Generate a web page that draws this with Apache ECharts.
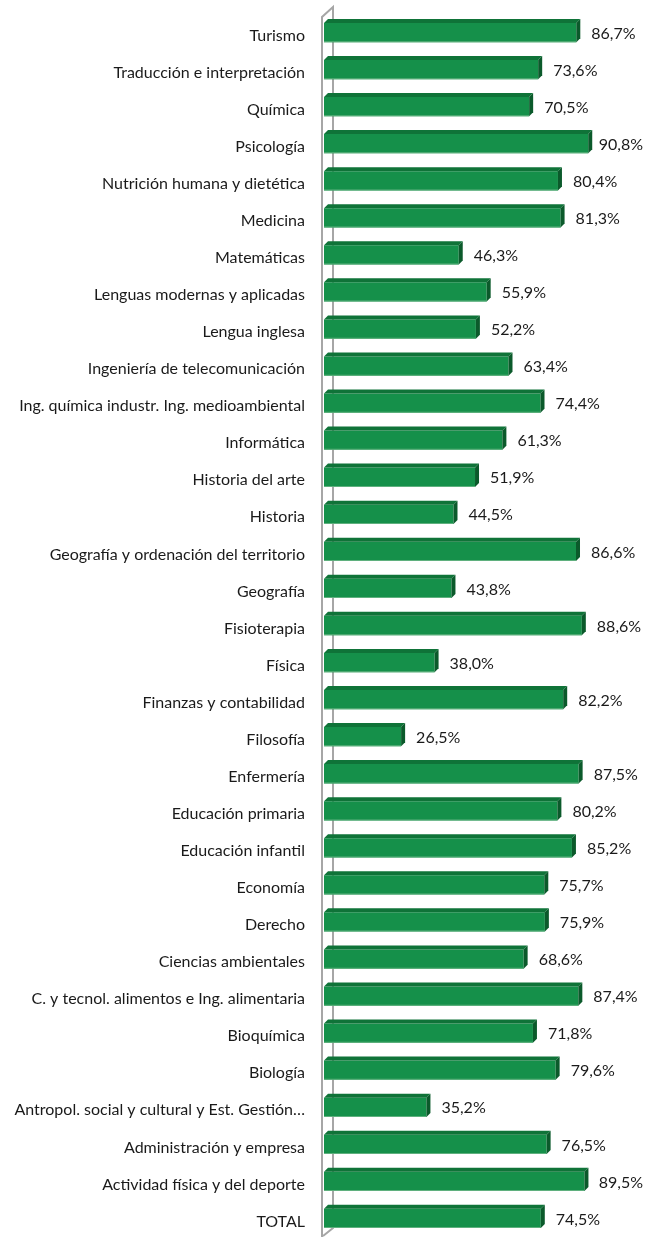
<!DOCTYPE html>
<html><head><meta charset="utf-8">
<script src="https://cdn.jsdelivr.net/npm/echarts@6/dist/echarts.min.js"></script>
<style>html,body{margin:0;padding:0;background:#fff}#c{width:646px;height:1237px}</style>
</head><body><div id="c"></div>
<script>
const categories = [
"Turismo","Traducción e interpretación","Química","Psicología","Nutrición humana y dietética","Medicina","Matemáticas","Lenguas modernas y aplicadas","Lengua inglesa","Ingeniería de telecomunicación","Ing. química industr. Ing. medioambiental","Informática","Historia del arte","Historia","Geografía y ordenación del territorio","Geografía","Fisioterapia","Física","Finanzas y contabilidad","Filosofía","Enfermería","Educación primaria","Educación infantil","Economía","Derecho","Ciencias ambientales","C. y tecnol. alimentos e Ing. alimentaria","Bioquímica","Biología","Antropol. social y cultural y Est. Gestión…","Administración y empresa","Actividad física y del deporte","TOTAL"];
const values = [86.7,73.6,70.5,90.8,80.4,81.3,46.3,55.9,52.2,63.4,74.4,61.3,51.9,44.5,86.6,43.8,88.6,38.0,82.2,26.5,87.5,80.2,85.2,75.7,75.9,68.6,87.4,71.8,79.6,35.2,76.5,89.5,74.5];

const FONT = 'Lato';
const ctx = document.createElement('canvas').getContext('2d');
ctx.font = '16px ' + FONT;
const chart = echarts.init(document.getElementById('c'), null, {renderer:'canvas'});
const D = 4;
chart.setOption({
  animation:false,
  grid:{left:324,right:31,top:14,bottom:0,containLabel:false},
  xAxis:{type:'value',min:0,max:100,show:false},
  yAxis:{type:'category',data:categories,inverse:true,
    axisLine:{show:false},axisTick:{show:false},
    axisLabel:{margin:19,color:'#1a1a1a',fontSize:16,fontFamily:FONT,
      formatter:function(s){return '{a|'+s+'}';},
      rich:{a:{fontSize:16,fontFamily:FONT,color:'#1a1a1a',padding:[6,0,0,0]}}}},
  series:[{type:'custom',
    data: values.map((v,i)=>[v,i]),
    encode:{x:0,y:1},
    renderItem:function(params,api){
      const v=api.value(0), c=api.value(1);
      const p0=api.coord([0,c]), p1=api.coord([v,c]);
      const h=api.size([0,1])[1]*0.52;
      const x0=p0[0], x1=p1[0], y0=p1[1]-h/2;
      const txt=v.toFixed(1).replace('.',',')+'%';
      const tw=ctx.measureText(txt).width;
      const tx=Math.min(x1+15, api.getWidth()-tw-3);
      return {type:'group',children:[
        {type:'rect',shape:{x:x0,y:y0,width:x1-x0,height:h},style:{fill:'#15904a'}},
        {type:'rect',shape:{x:x0,y:y0+h-1,width:x1-x0,height:1},style:{fill:'#5fb07e'}},
        {type:'polygon',shape:{points:[[x0,y0],[x0+D,y0-D],[x1+D,y0-D],[x1,y0]]},style:{fill:'#0f7338'}},
        {type:'polygon',shape:{points:[[x1,y0],[x1+D,y0-D],[x1+D,y0+h-D],[x1,y0+h]]},style:{fill:'#0b5a2b'}},
        {type:'text',style:{x:tx,y:p1[1]+1,text:txt,
          fill:'#1a1a1a',font:'16px '+FONT,verticalAlign:'middle'}}
      ]};
    }
  }]
});
const xL = chart.convertToPixel({xAxisIndex:0},0);
const yT = chart.convertToPixel({yAxisIndex:0},0);
const yB = chart.convertToPixel({yAxisIndex:0},categories.length-1);
const band = (yB-yT)/(categories.length-1);
const wallTop = yT-band/2, wallBot = yB+band/2;
chart.setOption({graphic:[
  {type:'polyline',z:0,shape:{points:[[xL-2,wallBot],[xL-2,wallTop+3],[xL+9,wallTop-7],[xL+9,wallBot-9],[xL-1,wallBot-1]]},
   style:{stroke:'#a6a6a6',lineWidth:2,fill:null}}
]});
</script></body></html>
